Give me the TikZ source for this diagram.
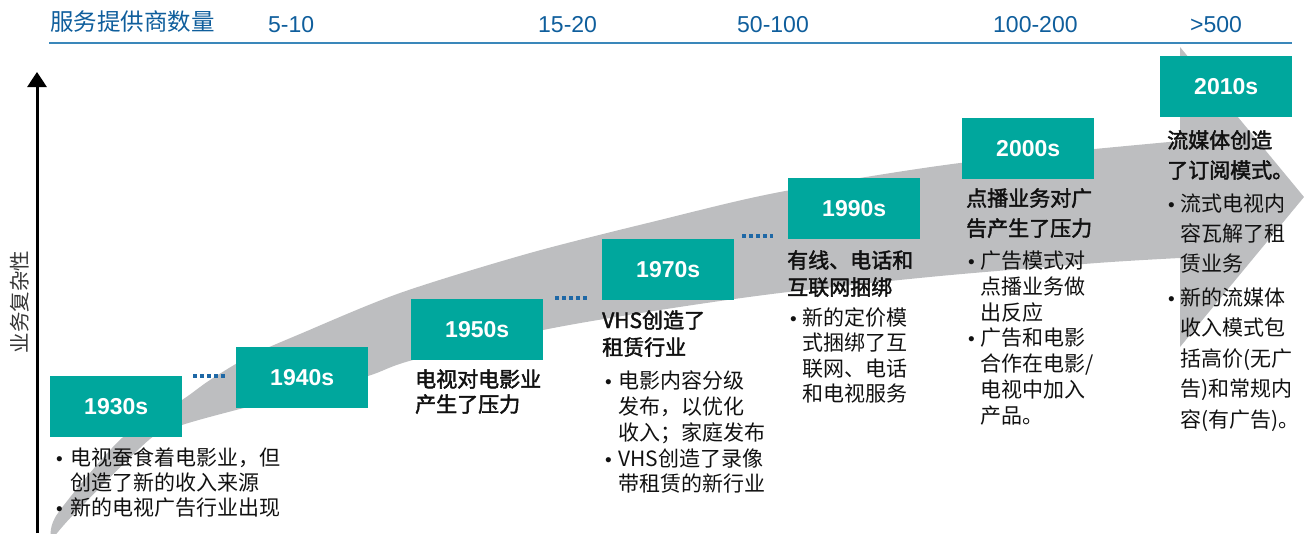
\documentclass[tikz,border=0pt]{standalone}
\usepackage{fontspec}
\usetikzlibrary{arrows.meta,calc}
\newfontfamily\cjk{Noto Sans CJK SC}[AutoFakeBold=2]
\newfontfamily\arial{Liberation Sans}
\definecolor{tealbox}{HTML}{00A79D}
\definecolor{greyarrow}{HTML}{BDBEC0}
\definecolor{hblue}{HTML}{0F5E9C}
\definecolor{lblue}{HTML}{3A87BA}
\definecolor{dblue}{HTML}{1E68A6}
\definecolor{txtc}{HTML}{111111}
\newcommand\lineblock[6]{%
  \foreach \mytxt [count=\k from 0] in {#6} {\node[#2] (#1-\k) at (#3, {#4+\k*#5}) {\mytxt};}}
\newcommand\bulletat[3]{\node[bul] (#1) at (#2,#3) {•};}
\begin{document}
\begin{tikzpicture}[x=1pt,y=-1pt,
  yearbox/.style={fill=tealbox, draw=none, minimum width=132pt, minimum height=61pt, inner sep=0pt, anchor=north west, text=white, font=\arial\bfseries\fontsize{23}{23}\selectfont},
  body/.style={anchor=base west, inner sep=0pt, text=txtc, font=\cjk\fontsize{21}{24}\selectfont},
  title/.style={anchor=base west, inner sep=0pt, text=txtc, font=\cjk\bfseries\fontsize{21}{24}\selectfont},
  bul/.style={anchor=base west, inner sep=0pt, text=txtc, font=\arial\fontsize{19}{19}\selectfont},
  hnum/.style={anchor=base west, inner sep=0pt, text=hblue, font=\arial\fontsize{23}{23}\selectfont},
  dots/.style={dblue, line width=4pt, dash pattern=on 4pt off 3pt}]
\useasboundingbox (0,0) rectangle (1304,533);
% grey arrow
\fill[greyarrow] plot[smooth, tension=0.5] coordinates {(51,537) (58,513) (122,438) (182,400) (210,380) (250,356) (300,334) (400,293) (530,253) (660,220) (780,192) (960,163) (1180,141)}
  -- (1180,47) -- (1304,197) -- (1180,347) --
  plot[smooth, tension=0.5] coordinates {(1180,258) (1097,263) (940,276) (780,293) (660,310) (543,330) (413,360) (368,376) (300,394) (236,410) (182,425) (150,439) (75,513) (54,537)} -- cycle;
% header
\node[anchor=base west, inner sep=0pt, text=hblue, font=\cjk\fontsize{23.5}{24}\selectfont] (hdr) at (50,30) {服务提供商数量};
\node[hnum] (n1) at (268,32) {5-10};
\node[hnum] (n2) at (538,32) {15-20};
\node[hnum] (n3) at (737,32) {50-100};
\node[hnum] (n4) at (993,32) {100-200};
\node[hnum] (n5) at (1190,32) {>500};
\coordinate (hl) at (49,43);
\coordinate (hr) at (1292,43);
\draw[lblue, line width=2pt] (hl) -- (hr);
% y axis
\coordinate (ax0) at (37,533);
\coordinate (ax1) at (37,72);
\draw[line width=3pt, -{Triangle[width=19pt,length=15pt]}] (ax0) -- (ax1);
\node[rotate=90, inner sep=0pt, text=txtc!85, font=\cjk\fontsize{20.5}{21}\selectfont] (ylab) at (20,302) {业务复杂性};
% year boxes
\node[yearbox] (y30) at (50,376) {1930s};
\node[yearbox] (y40) at (236,347) {1940s};
\node[yearbox] (y50) at (411,299) {1950s};
\node[yearbox] (y70) at (602,239) {1970s};
\node[yearbox] (y90) at (788,178) {1990s};
\node[yearbox] (y00) at (962,118) {2000s};
\node[yearbox] (y10) at (1160,56) {2010s};
% dotted links
\draw[dots] ($(y30.north east)+(11,0)$) -- ($(y40.west |- y30.north)+(-11,0)$);
\draw[dots] ($(y50.north east)+(12,-1)$) -- ($(y70.west |- y50.north)+(-15,-1)$);
\draw[dots] ($(y70.north east)+(8,-3)$) -- ($(y90.west |- y70.north)+(-15,-3)$);
% 1930s
\bulletat{b30a}{56}{465}
\lineblock{t30a}{body}{70}{465}{25}{{电视蚕食着电影业，但},{创造了新的收入来源}}
\bulletat{b30b}{56}{515}
\lineblock{t30b}{body}{70}{515}{25}{{新的电视广告行业出现}}
% 1950s
\lineblock{h50}{title}{415}{387}{25}{{电视对电影业},{产生了压力}}
% 1970s
\lineblock{h70}{title}{602}{328}{27}{{VHS创造了},{租赁行业}}
\bulletat{b70a}{605}{388}
\lineblock{t70a}{body}{618}{388}{26}{{电影内容分级},{发布，以优化},{收入；家庭发布}}
\bulletat{b70b}{605}{466}
\lineblock{t70b}{body}{618}{466}{25.5}{{VHS创造了录像},{带租赁的新行业}}
% 1990s
\lineblock{h90}{title}{787}{268}{27}{{有线、电话和},{互联网捆绑}}
\bulletat{b90a}{790}{325}
\lineblock{t90a}{body}{802}{325}{25.5}{{新的定价模},{式捆绑了互},{联网、电话},{和电视服务}}
% 2000s
\lineblock{h00}{title}{966}{206}{30}{{点播业务对广},{告产生了压力}}
\bulletat{b00a}{968}{268}
\lineblock{t00a}{body}{980}{268}{26}{{广告模式对},{点播业务做},{出反应}}
\bulletat{b00b}{968}{345}
\lineblock{t00b}{body}{980}{345}{26}{{广告和电影},{合作在电影/},{电视中加入},{产品。}}
% 2010s
\lineblock{h10}{title}{1167}{148}{30}{{流媒体创造},{了订阅模式。}}
\bulletat{b10a}{1168}{211}
\lineblock{t10a}{body}{1180}{211}{30}{{流式电视内},{容瓦解了租},{赁业务}}
\bulletat{b10b}{1168}{305}
\lineblock{t10b}{body}{1180}{305}{30.5}{{新的流媒体},{收入模式包},{括高价(无广},{告)和常规内},{容(有广告)。}}
\end{tikzpicture}
\end{document}
